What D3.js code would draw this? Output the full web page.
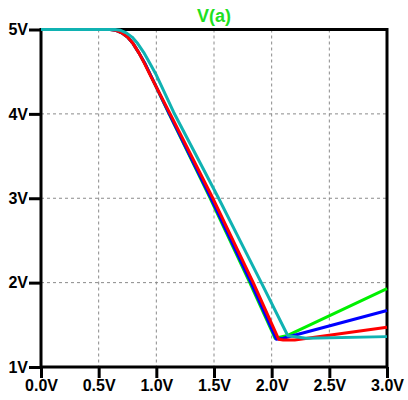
<!DOCTYPE html>
<html>
<head>
<meta charset="utf-8">
<script src="https://cdn.jsdelivr.net/npm/d3@7"></script>
<style>
  body { margin: 0; background: #fff; }
  svg { display: block; font-family: Arial, "Liberation Sans", sans-serif; }
</style>
</head>
<body>
<div id="chart"></div>
<script>
// tick values
const xTicks = [0, 0.5, 1.0, 1.5, 2.0, 2.5, 3.0];
const yTicks = [1, 2, 3, 4, 5];
const title = 'V(a)';

// curves, [vin, vout]
const greenCurve = [[0,5],[0.6,5],[0.65,4.99],[0.7,4.96],[0.75,4.91],[0.8,4.83],[0.85,4.72],[0.9,4.6],[0.95,4.46],[1.10,4.03],[1.46,3.02],[1.81,2.0],[2.03,1.34],[2.13,1.37],[3.0,1.93]];
const blueCurve  = [[0,5],[0.6,5],[0.65,4.99],[0.7,4.96],[0.75,4.91],[0.8,4.83],[0.85,4.72],[0.9,4.6],[0.95,4.46],[1.105,4.02],[1.47,3.01],[1.82,2.0],[2.04,1.33],[2.1,1.34],[3.0,1.67]];
const redCurve   = [[0,5],[0.6,5],[0.65,4.99],[0.7,4.96],[0.75,4.91],[0.8,4.83],[0.85,4.72],[0.9,4.59],[0.95,4.45],[1.12,4.0],[1.49,3.0],[1.84,2.0],[2.06,1.33],[2.1,1.32],[2.2,1.32],[3.0,1.47]];
const cyanCurve  = [[0,5],[0.64,5],[0.69,4.99],[0.74,4.96],[0.79,4.91],[0.84,4.83],[0.89,4.73],[0.94,4.61],[1.0,4.46],[1.15,4.02],[1.54,3.0],[1.91,2.0],[2.14,1.37],[2.3,1.34],[3.0,1.36]];

const series = [
  { data: greenCurve, color: '#00f000' },
  { data: blueCurve,  color: '#0000ff' },
  { data: redCurve,   color: '#ff0000' },
  { data: cyanCurve,  color: '#10b2b2' }
];

const W = 408, H = 400;
const margin = { top: 29.5, right: 21, bottom: 33, left: 41 };

const svg = d3.select('#chart').append('svg')
    .attr('width', W)
    .attr('height', H);

const x = d3.scaleLinear().domain([0, 3]).range([margin.left, W - margin.right]);
const y = d3.scaleLinear().domain([1, 5]).range([H - margin.bottom, margin.top]);

// dashed grid
svg.append('g')
  .selectAll('line')
  .data(xTicks.slice(1, -1))
  .enter().append('line')
    .attr('x1', d => x(d)).attr('x2', d => x(d))
    .attr('y1', y(5)).attr('y2', y(1))
    .attr('stroke', '#8a8a8a')
    .attr('stroke-dasharray', '3,3');

svg.append('g')
  .selectAll('line')
  .data(yTicks.slice(1, -1))
  .enter().append('line')
    .attr('y1', d => y(d)).attr('y2', d => y(d))
    .attr('x1', x(0)).attr('x2', x(3))
    .attr('stroke', '#8a8a8a')
    .attr('stroke-dasharray', '3,3');

// frame
svg.append('rect')
    .attr('x', x(0)).attr('y', y(5))
    .attr('width', x(3) - x(0))
    .attr('height', y(1) - y(5))
    .attr('fill', 'none')
    .attr('stroke', '#000')
    .attr('stroke-width', 3);

// axes
const fmtX = d => d.toFixed(1) + 'V';
const xAxis = svg.append('g')
    .attr('transform', `translate(0, ${y(1)})`)
    .call(d3.axisBottom(x).tickValues(xTicks).tickFormat(fmtX).tickSize(11).tickSizeOuter(0).tickPadding(2));

const yAxis = svg.append('g')
    .attr('transform', `translate(${x(0)}, 0)`)
    .call(d3.axisLeft(y).tickValues(yTicks).tickFormat(d => d + 'V').tickSize(12).tickSizeOuter(0).tickPadding(1));

[xAxis, yAxis].forEach(a => {
  a.select('.domain').remove();
  a.selectAll('line').attr('stroke', '#000').attr('stroke-width', 3);
  a.selectAll('text')
    .attr('fill', '#000')
    .style('font-size', '16px')
    .style('font-weight', 'bold')
    .style('font-family', 'Arial, "Liberation Sans", sans-serif');
});

// curves
const line = d3.line()
    .x(d => x(d[0]))
    .y(d => y(d[1]));

svg.append('g')
  .selectAll('path')
  .data(series)
  .enter().append('path')
    .attr('d', d => line(d.data))
    .attr('fill', 'none')
    .attr('stroke', d => d.color)
    .attr('stroke-width', 3)
    .attr('stroke-linejoin', 'round');

// title
svg.append('text')
    .attr('x', (x(0) + x(3)) / 2)
    .attr('y', 22)
    .attr('text-anchor', 'middle')
    .attr('fill', '#20e020')
    .style('font-size', '18px')
    .style('font-weight', 'bold')
    .text(title);
</script>
</body>
</html>
